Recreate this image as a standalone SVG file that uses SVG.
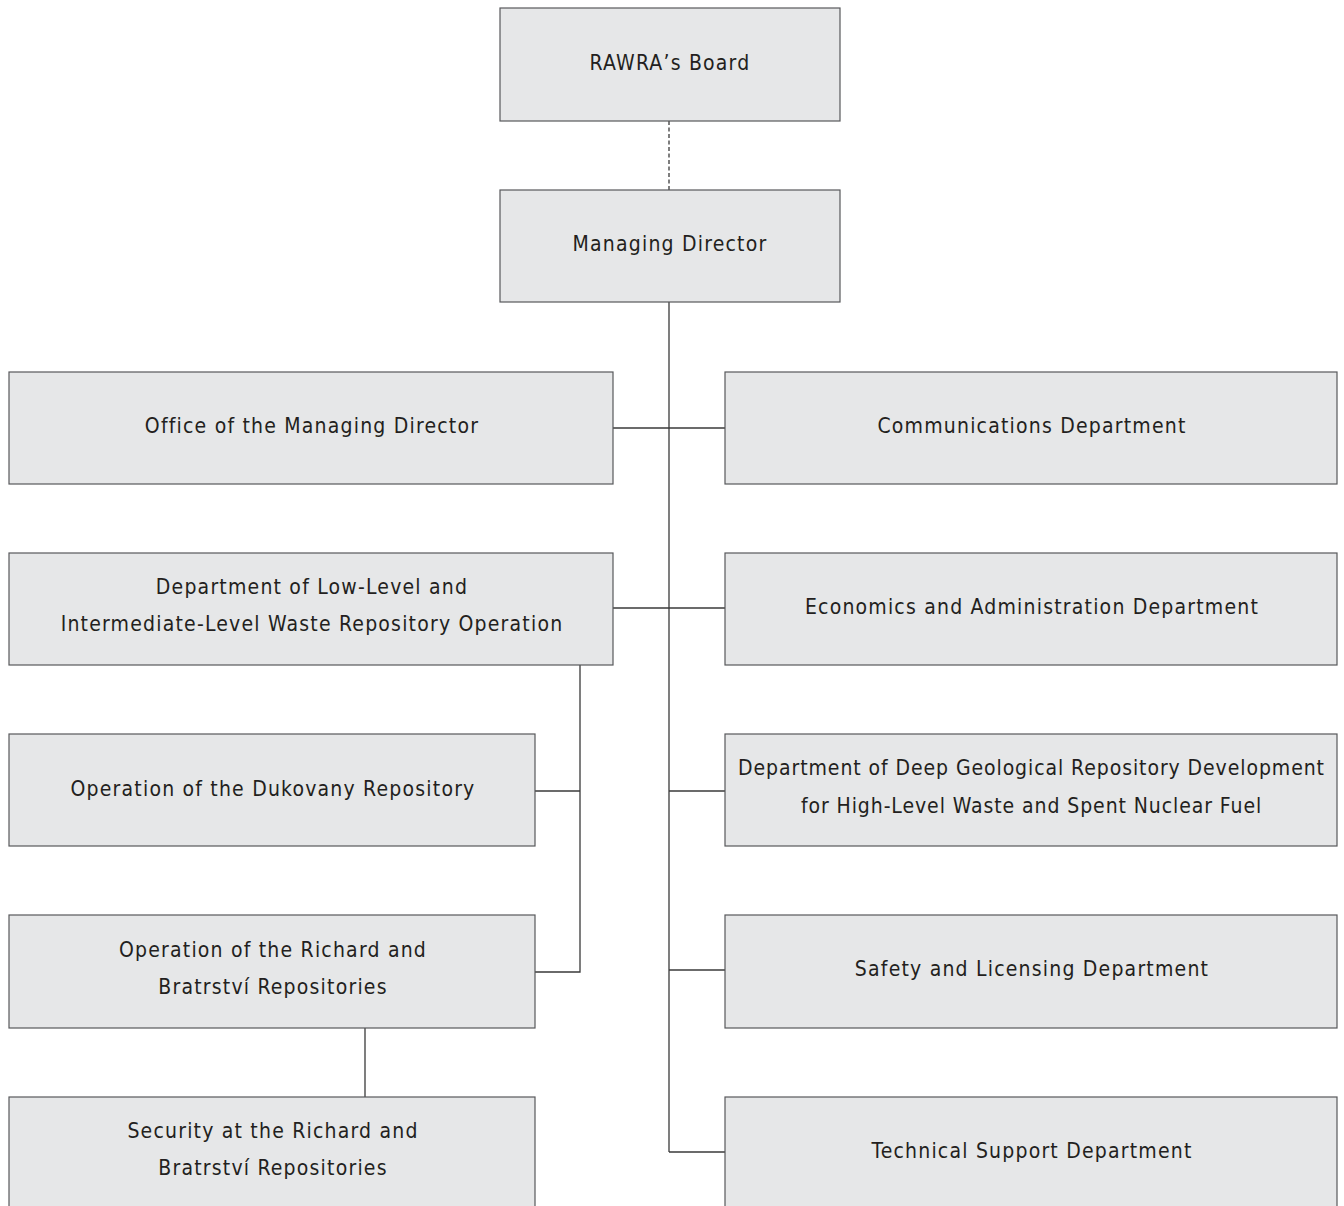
<svg xmlns="http://www.w3.org/2000/svg" width="1344" height="1206" viewBox="0 0 1344 1206">
<style>
.box{fill:#e6e7e8;stroke:#58595b;stroke-width:1.2}
.t{font-family:"DejaVu Sans Condensed","DejaVu Sans",sans-serif;font-size:21px;letter-spacing:1.2px;fill:#231f20;text-anchor:middle;dominant-baseline:central}
.n{letter-spacing:0.92px}
.c{fill:none;stroke:#3a3a3a;stroke-width:1.3}
</style>
<rect width="1344" height="1206" fill="#fff"/>
<g id="connectors">
<line class="c" x1="669" y1="121" x2="669" y2="190" stroke-dasharray="4,2.5"/>
<line class="c" x1="669" y1="302" x2="669" y2="1152"/>
<line class="c" x1="613" y1="428" x2="725" y2="428"/>
<line class="c" x1="613" y1="608" x2="725" y2="608"/>
<line class="c" x1="669" y1="791" x2="725" y2="791"/>
<line class="c" x1="669" y1="970" x2="725" y2="970"/>
<line class="c" x1="669" y1="1152" x2="725" y2="1152"/>
<polyline class="c" points="580,665 580,972 535,972"/>
<line class="c" x1="535" y1="791" x2="580" y2="791"/>
<line class="c" x1="365" y1="1028" x2="365" y2="1097"/>
</g>
<g id="board"><rect class="box" x="500" y="8" width="340" height="113"/><text class="t" x="670" y="63">RAWRA’s Board</text></g>
<g id="md"><rect class="box" x="500" y="190" width="340" height="112"/><text class="t" x="670" y="244">Managing Director</text></g>
<g id="office"><rect class="box" x="9" y="372" width="604" height="112"/><text class="t" x="312" y="426">Office of the Managing Director</text></g>
<g id="comm"><rect class="box" x="725" y="372" width="612" height="112"/><text class="t" x="1032" y="426">Communications Department</text></g>
<g id="llw"><rect class="box" x="9" y="553" width="604" height="112"/><text class="t" x="312" y="587">Department of Low-Level and</text><text class="t" x="312" y="624">Intermediate-Level Waste Repository Operation</text></g>
<g id="econ"><rect class="box" x="725" y="553" width="612" height="112"/><text class="t" x="1032" y="607">Economics and Administration Department</text></g>
<g id="dukovany"><rect class="box" x="9" y="734" width="526" height="112"/><text class="t" x="273" y="789">Operation of the Dukovany Repository</text></g>
<g id="deep"><rect class="box" x="725" y="734" width="612" height="112"/><text class="t n" x="1031.5" y="768">Department of Deep Geological Repository Development</text><text class="t n" x="1031.5" y="806">for High-Level Waste and Spent Nuclear Fuel</text></g>
<g id="richard"><rect class="box" x="9" y="915" width="526" height="113"/><text class="t" x="273" y="950">Operation of the Richard and</text><text class="t" x="273" y="987">Bratrství Repositories</text></g>
<g id="safety"><rect class="box" x="725" y="915" width="612" height="113"/><text class="t" x="1032" y="969">Safety and Licensing Department</text></g>
<g id="security"><rect class="box" x="9" y="1097" width="526" height="120"/><text class="t" x="273" y="1131">Security at the Richard and</text><text class="t" x="273" y="1168">Bratrství Repositories</text></g>
<g id="tech"><rect class="box" x="725" y="1097" width="612" height="120"/><text class="t" x="1032" y="1151">Technical Support Department</text></g>
</svg>
